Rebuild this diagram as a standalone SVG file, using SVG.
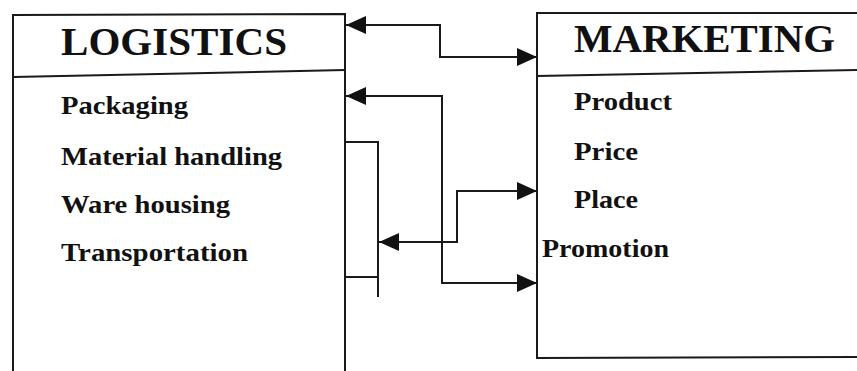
<svg xmlns="http://www.w3.org/2000/svg" width="857" height="371" viewBox="0 0 857 371">
<defs>
<style>
.box{fill:none;stroke:#1a1a1a;stroke-width:2}
.ln{fill:none;stroke:#1a1a1a;stroke-width:2}
.t{font-family:'Liberation Serif',serif;font-weight:700;fill:#111}
.h{font-size:40px}
.i{font-size:25px}
</style>
<marker id="ah" viewBox="0 0 20 20" refX="20" refY="10" markerWidth="20" markerHeight="20" markerUnits="userSpaceOnUse" orient="auto-start-reverse">
<path d="M0,1 L20,10 L0,19 Z" fill="#111"/>
</marker>
</defs>
<rect width="857" height="371" fill="#fff"/>
<g id="logistics">
<path class="box" d="M13,372 L13,15 L345,14 L345,372"/>
<path class="box" d="M13,77 L345,70"/>
<text class="t h" x="61" y="55" textLength="226" lengthAdjust="spacingAndGlyphs">LOGISTICS</text>
<text class="t i" x="61" y="114" textLength="127" lengthAdjust="spacingAndGlyphs">Packaging</text>
<text class="t i" x="61" y="165" textLength="221" lengthAdjust="spacingAndGlyphs">Material handling</text>
<text class="t i" x="61" y="213" textLength="169" lengthAdjust="spacingAndGlyphs">Ware housing</text>
<text class="t i" x="61" y="261" textLength="187" lengthAdjust="spacingAndGlyphs">Transportation</text>
</g>
<g id="marketing">
<path class="box" d="M858,13 L537,13 L537,358 L858,357"/>
<path class="box" d="M537,76 L858,70"/>
<text class="t h" x="574" y="52" textLength="261" lengthAdjust="spacingAndGlyphs">MARKETING</text>
<text class="t i" x="574" y="110" textLength="98" lengthAdjust="spacingAndGlyphs">Product</text>
<text class="t i" x="574" y="160" textLength="64" lengthAdjust="spacingAndGlyphs">Price</text>
<text class="t i" x="574" y="208" textLength="64" lengthAdjust="spacingAndGlyphs">Place</text>
<text class="t i" x="542" y="257" textLength="127" lengthAdjust="spacingAndGlyphs">Promotion</text>
</g>
<g id="connectors">
<path class="ln" d="M346,25 L440,25 L440,57 L537,57" marker-start="url(#ah)" marker-end="url(#ah)"/>
<path class="ln" d="M346,96 L442,96 L442,283 L537,283" marker-start="url(#ah)" marker-end="url(#ah)"/>
<path class="ln" d="M345,142 L378,142 L378,297 M345,277 L378,277"/>
<path class="ln" d="M379,242 L457,242 L457,191 L537,191" marker-start="url(#ah)" marker-end="url(#ah)"/>
</g>
</svg>
